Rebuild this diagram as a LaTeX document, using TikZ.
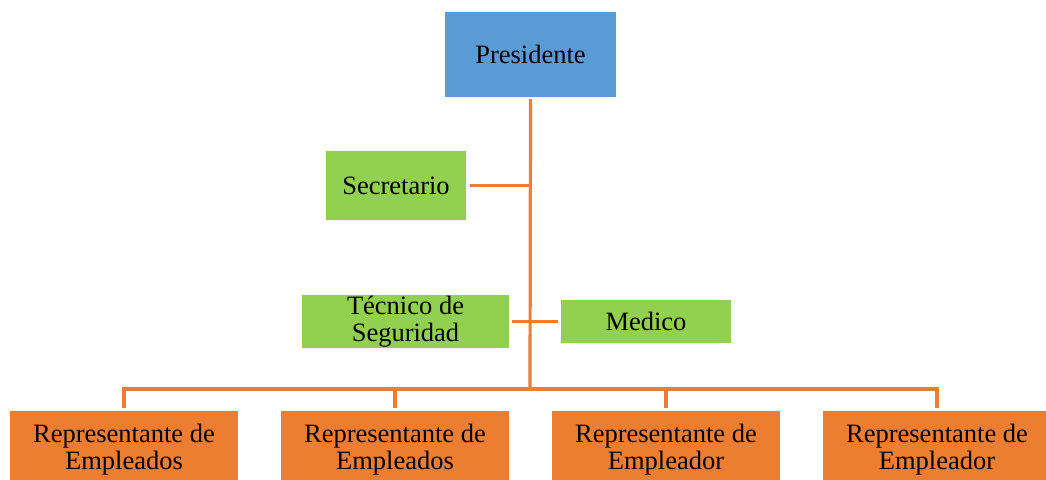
\documentclass[tikz,border=0pt]{standalone}
\usepackage{fontspec}
\setmainfont{Liberation Serif}
\definecolor{presblue}{HTML}{5B9BD5}
\definecolor{staffgreen}{HTML}{92D050}
\definecolor{reporange}{HTML}{ED7D31}
\begin{document}
\begin{tikzpicture}[x=1pt,y=-1pt,
  box/.style={inner sep=0pt,align=center,font=\fontsize{26.5}{27}\selectfont,text=black},
  pres/.style={box,fill=presblue,minimum width=171pt,minimum height=85pt},
  staff/.style={box,fill=staffgreen},
  rep/.style={box,fill=reporange,minimum width=228pt,minimum height=78pt},
  link/.style={draw=reporange,line width=3.2pt}]
\useasboundingbox (0,0) rectangle (1046,479);
\begin{scope}
\clip (0,0) rectangle (1046,479);
\node[pres] (pres) at (530.5,54.5) {Presidente};
\node[staff,minimum width=140pt,minimum height=69pt] (sec) at (396,185.5) {Secretario};
\node[staff,minimum width=207pt,minimum height=53pt] (tec) at (405.5,321.5) {Técnico de\\Seguridad};
\node[staff,minimum width=170pt,minimum height=43pt] (med) at (646,321.5) {Medico};
\node[rep] (r1) at (124,450) {Representante de\\Empleados};
\node[rep] (r2) at (395,450) {Representante de\\Empleados};
\node[rep] (r3) at (666,450) {Representante de\\Empleador};
\node[rep] (r4) at (937,450) {Representante de\\Empleador};
\end{scope}
\coordinate (bus) at (530,389);
\draw[link] (pres.south) ++(0,2) -- (bus);
\draw[link,shorten <=4pt] (sec.east) -- (sec.east -| bus);
\draw[link,shorten <=3pt,shorten >=3pt] (tec.east) -- (med.west);
\draw[link,line cap=rect] (r1.north |- bus) -- (r4.north |- bus);
\foreach \r in {r1,r2,r3,r4}
  \draw[link,shorten >=3pt] (\r.north |- bus) -- (\r.north);
\end{tikzpicture}
\end{document}
